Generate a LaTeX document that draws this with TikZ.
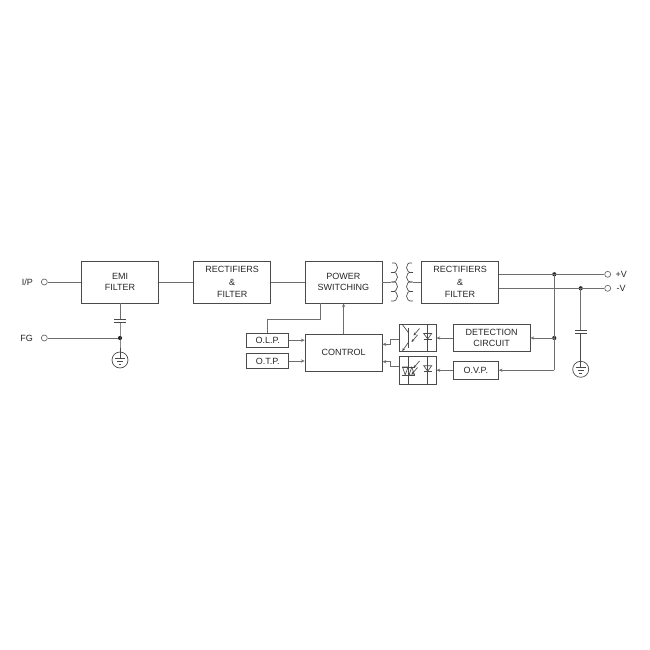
\documentclass[tikz,border=0pt]{standalone}
\usepackage{fontspec}
\setmainfont{Liberation Sans}
\usetikzlibrary{arrows.meta}
\definecolor{linec}{HTML}{4A4A4A}
\definecolor{wirec}{HTML}{6E6E6E}
\definecolor{txtc}{HTML}{262626}
\begin{document}
\begin{tikzpicture}[x=1pt,y=-1pt,
  blk/.style={draw=linec, line width=0.75pt, rectangle, inner sep=0pt, align=center, font=\fontsize{9}{11.5}\selectfont, text=txtc},
  bigblk/.style={blk, minimum width=77pt, minimum height=42pt},
  tallblk/.style={bigblk, font=\fontsize{9}{12.2}\selectfont},
  wire/.style={draw=wirec, line width=0.7pt},
  sym/.style={draw=linec, line width=0.65pt},
  arr/.style={wire, -{Stealth[length=3.8pt,width=3.2pt]}},
  symarr/.style={sym, -{Stealth[length=3pt,width=2.8pt]}},
  term/.style={circle, draw=wirec, line width=0.7pt, minimum size=6pt, inner sep=0pt, fill=white},
  jdot/.style={circle, fill=black!85, minimum size=4.2pt, inner sep=0pt},
  gnd/.style={circle, draw=linec, line width=0.7pt, minimum size=16pt, inner sep=0pt},
  lbl/.style={font=\fontsize{9}{10}\selectfont, text=txtc, inner sep=0pt},
]
\useasboundingbox (0,0) rectangle (650,650);

% main blocks
\node[bigblk] (emi) at (120,282) {EMI\\FILTER};
\node[tallblk] (rf1) at (232.2,282) {RECTIFIERS\\\&\\FILTER};
\node[bigblk] (ps)  at (343.4,282) {POWER\\SWITCHING};
\node[tallblk] (rf2) at (460,282) {RECTIFIERS\\\&\\FILTER};

\node[blk, minimum width=42pt, minimum height=14.5pt] (olp) at (267.7,340.2) {O.L.P.};
\node[blk, minimum width=42pt, minimum height=14.5pt] (otp) at (267.7,361) {O.T.P.};
\node[blk, minimum width=77pt, minimum height=37pt] (ctl) at (343.6,352.6) {CONTROL};

\node[blk, minimum width=36.7pt, minimum height=27.7pt] (op1) at (417.7,338) {};
\node[blk, minimum width=36.7pt, minimum height=28pt] (op2) at (417.7,370.2) {};
\node[blk, minimum width=76.7pt, minimum height=27.7pt] (det) at (491.7,338) {DETECTION\\CIRCUIT};
\node[blk, minimum width=45pt, minimum height=18.3pt] (ovp) at (475.8,370.2) {O.V.P.};

% terminals
\node[term] (ip) at (44.3,282) {};
\node[lbl, anchor=east] (iplbl) at (33,282) {I/P};
\node[term] (fg) at (44.3,338) {};
\node[lbl, anchor=east] (fglbl) at (33,338) {FG};
\node[term] (pv) at (607.7,274.3) {};
\node[lbl, anchor=west] (pvlbl) at (615.5,274.3) {+V};
\node[term] (mv) at (607.7,288.3) {};
\node[lbl, anchor=west] (mvlbl) at (616.5,288.3) {-V};

% input side
\draw[wire] (ip) -- (emi.west);
\draw[wire] (emi) -- (rf1);
\draw[wire] (rf1) -- (ps);
\coordinate (c1a) at (120,319.3);
\coordinate (c1b) at (120,322.7);
\node[jdot] (fgdot) at (120,338) {};
\node[gnd] (g1) at (120,360) {};
\draw[wire] (emi.south) -- (c1a);
\draw[sym] ([xshift=-6pt]c1a) -- ([xshift=6pt]c1a);
\draw[sym] ([xshift=-6pt]c1b) -- ([xshift=6pt]c1b);
\draw[wire] (fg) -- (fgdot);
\draw[sym] (c1b) -- (fgdot.center) -- ([yshift=2pt]g1.center);
\draw[sym] ([xshift=-5pt,yshift=2pt]g1.center) -- ([xshift=5pt,yshift=2pt]g1.center);
\draw[sym] ([xshift=-3pt,yshift=-1pt]g1.center) -- ([xshift=3pt,yshift=-1pt]g1.center);
\draw[sym] ([xshift=-1.3pt,yshift=-4pt]g1.center) -- ([xshift=1.3pt,yshift=-4pt]g1.center);

% transformer
\coordinate (tl) at (391,282);
\coordinate (tr) at (413,282);
\foreach \i in {0,...,3} {
  \draw[sym] (392,263+9.5*\i) .. controls (399.5,261+9.5*\i) and (399.5,274.5+9.5*\i) .. (391,272.5+9.5*\i);
  \draw[sym] (412,263+9.5*\i) .. controls (404.5,261+9.5*\i) and (404.5,274.5+9.5*\i) .. (413,272.5+9.5*\i);
}
\draw[wire] (ps.east) -- (tl);
\draw[wire] (tr) -- (rf2.west);

% control section
\coordinate (k1) at (320.7,319);
\draw[wire] (ps.south -| k1) -- (k1) -| (olp.north);
\draw[arr] (ctl.north) -- (ctl.north |- ps.south);
\draw[arr] (olp.east) -- (olp.east -| ctl.west);
\draw[arr] (otp.east) -- (otp.east -| ctl.west);
\coordinate (j1) at (390,344.3);
\coordinate (j2) at (390,361.7);
\draw[arr] ([yshift=-1pt]op1.west) -| (j1) -- (j1 -| ctl.east);
\draw[arr] ([yshift=3.5pt]op2.west) -| (j2) -- (j2 -| ctl.east);

% output side
\node[jdot] (b1) at (554.3,274.3) {};
\node[jdot] (b2) at (554.3,338) {};
\coordinate (b3) at (554.3,370.2);
\node[jdot] (md) at (580.7,288.3) {};
\draw[wire] (rf2.east |- pv) -- (pv);
\draw[wire] (rf2.east |- mv) -- (mv);
\draw[wire] (b1.center) -- (b3);
\draw[arr] (b3) -- (ovp.east);
\draw[arr] (b2.center) -- (det.east);
\draw[arr] (det.west) -- (op1.east);
\draw[arr] (ovp.west) -- (op2.east);
\coordinate (c2a) at (580.7,330);
\coordinate (c2b) at (580.7,333.5);
\node[gnd] (g2) at (580.7,369.3) {};
\draw[wire] (md.center) -- (c2a);
\draw[sym] ([xshift=-6pt]c2a) -- ([xshift=6pt]c2a);
\draw[sym] ([xshift=-6pt]c2b) -- ([xshift=6pt]c2b);
\draw[sym] (c2b) -- ([yshift=2pt]g2.center);
\draw[sym] ([xshift=-5pt,yshift=2pt]g2.center) -- ([xshift=5pt,yshift=2pt]g2.center);
\draw[sym] ([xshift=-3pt,yshift=-1pt]g2.center) -- ([xshift=3pt,yshift=-1pt]g2.center);
\draw[sym] ([xshift=-1.3pt,yshift=-4pt]g2.center) -- ([xshift=1.3pt,yshift=-4pt]g2.center);

% opto 1: phototransistor, light, LED
\draw[sym] (408.7,328) -- (408.7,348);
\draw[sym] (402.3,324.5) -- (408.7,333);
\draw[symarr] (408.7,342) -- (402.3,351);
\draw[symarr] (419.5,328.5) -- (413.5,335.5);
\draw[symarr] (417.5,335) -- (411.5,342);
\draw[sym] (427.7,324) -- (427.7,351.7);
\draw[sym] (423.7,333.5) -- (431.7,333.5) -- (427.7,339) -- cycle;
\draw[sym] (423.7,339) -- (431.7,339);

% opto 2: photo-triac, light, LED
\draw[sym] (408.5,356.2) -- (408.5,384);
\draw[sym] (402,367) -- (415,367);
\draw[sym] (402,375) -- (415,375);
\draw[sym] (402.5,367) -- (408,367) -- (405.2,375) -- cycle;
\draw[sym] (409,375) -- (414.5,375) -- (411.8,367) -- cycle;
\draw[symarr] (419.5,361) -- (413.5,368);
\draw[symarr] (417.5,367.5) -- (411.5,374.5);
\draw[sym] (427.7,356.2) -- (427.7,384);
\draw[sym] (423.7,365.7) -- (431.7,365.7) -- (427.7,371.2) -- cycle;
\draw[sym] (423.7,371.2) -- (431.7,371.2);
\end{tikzpicture}
\end{document}
